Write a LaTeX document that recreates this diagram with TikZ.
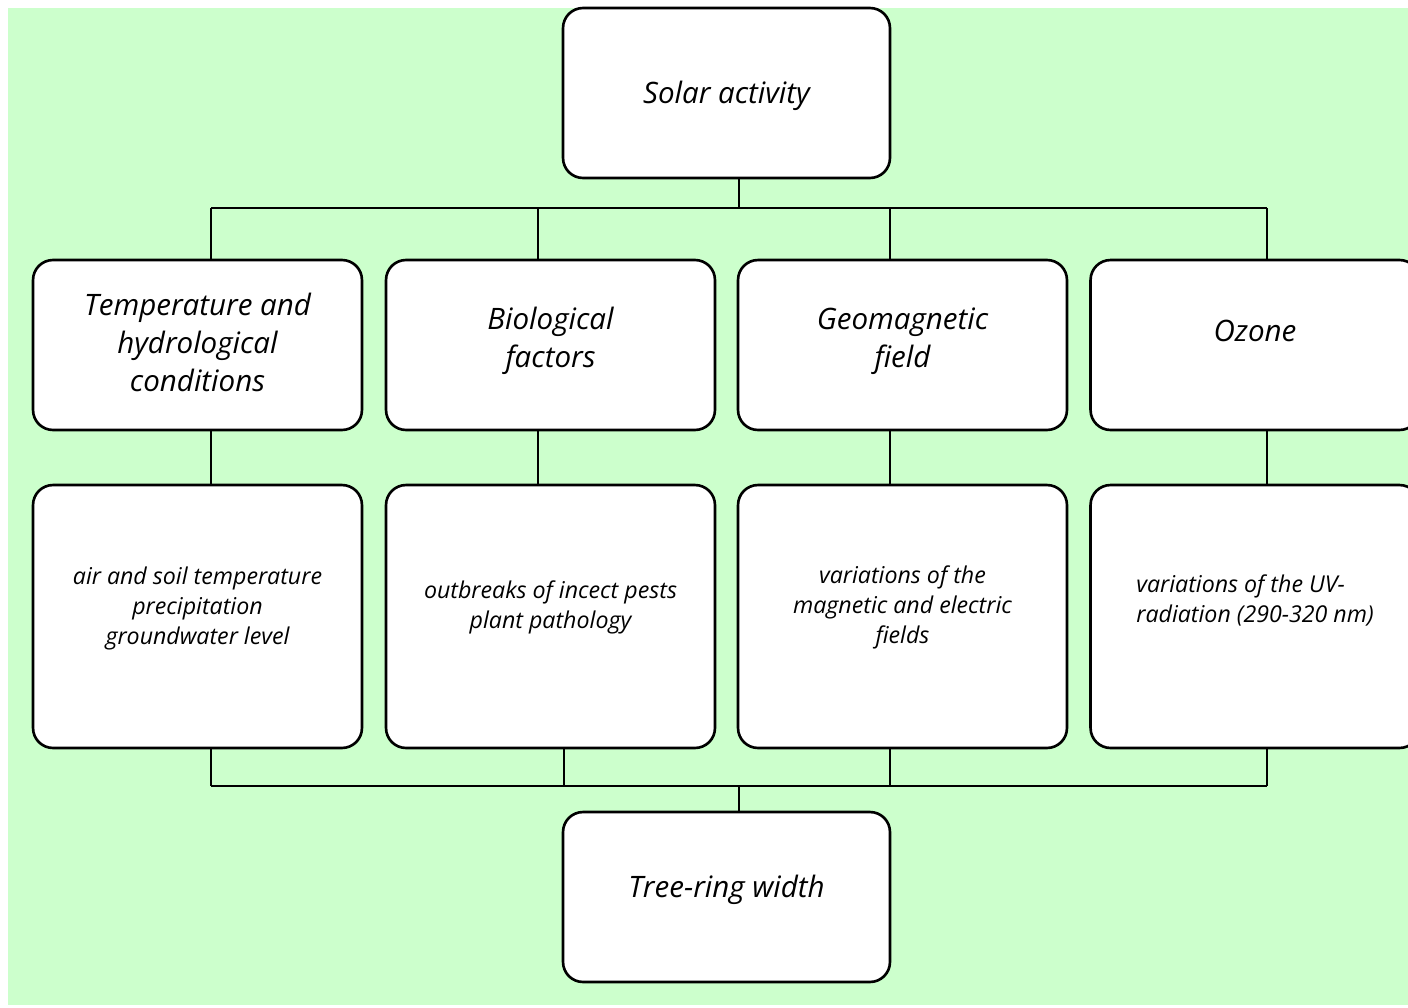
\documentclass[tikz,border=0pt]{standalone}
\usepackage{fontspec}
\setmainfont{Open Sans}
\definecolor{bggreen}{RGB}{204,255,204}
% raise the text inside a box without changing the box
\newcommand\lifttext[3][c]{\raisebox{#2}[\height][\depth]{\begin{tabular}{@{}#1@{}}#3\end{tabular}}}
\tikzset{
  box/.style={draw, fill=white, rounded corners=0.4cm, line width=1.5pt,
    inner sep=0pt, align=center, minimum width=6.58cm},
  headbox/.style={box, minimum height=3.4cm, font=\itshape\fontsize{16.8}{21.5}\selectfont},
  detailbox/.style={box, minimum height=5.26cm, font=\itshape\fontsize{13.2}{17}\selectfont},
  link/.style={line width=0.9pt}
}
\begin{document}
\begin{tikzpicture}[x=0.02cm, y=-0.02cm]
    \useasboundingbox (0,0) rectangle (1408,1007);
    \clip (0,0) rectangle (1408,1007);
    \fill[bggreen] (8,8) rectangle (1408,1005);

    % top and bottom boxes
    \node[headbox, minimum width=6.54cm] (solar) at (726.5,93) {\lifttext{-1.5pt}{Solar activity}};
    \node[headbox, minimum width=6.54cm] (ring) at (726.5,897) {\lifttext{4pt}{Tree-ring width}};

    % factors
    \node[headbox] (temp) at (197.5,345) {\lifttext{-0.5pt}{Temperature and\\hydrological\\conditions}};
    \node[headbox] (bio) at (550.5,345) {\lifttext{2.5pt}{Biological\\factors}};
    \node[headbox] (geo) at (902.5,345) {\lifttext{2.5pt}{Geomagnetic\\field}};
    \node[headbox] (ozone) at (1255,345) {\lifttext{6.5pt}{Ozone}};

    % details
    \node[detailbox] (tempd) at (197.5,616.5) {\lifttext{4.5pt}{air and soil temperature\\precipitation\\groundwater level}};
    \node[detailbox] (biod) at (550.5,616.5) {\lifttext{5pt}{outbreaks of incect pests\\plant pathology}};
    \node[detailbox] (geod) at (902.5,616.5) {\lifttext{5pt}{variations of the\\magnetic and electric\\fields}};
    \node[detailbox] (ozoned) at (1255,616.5) {\lifttext[l]{8.5pt}{variations of the UV-\\radiation (290-320 nm)}};

    % connectors
    \coordinate (bustop) at (739,208);
    \coordinate (busbot) at (739,786);
    \foreach \n/\xa/\xb in {temp/211/211, bio/538/564, geo/890/890, ozone/1267/1267}{
      \coordinate (\n-a) at (\xa,208);
      \coordinate (\n-b) at (\xb,786);
      \draw[link] (\n-a) -- (\n-a |- \n.north);
      \draw[link] (\n-a |- \n.south) -- (\n-a |- \n d.north);
      \draw[link] (\n-b |- \n d.south) -- (\n-b);
    }
    \draw[link] (temp-a) -- (ozone-a);
    \draw[link] (temp-b) -- (ozone-b);
    \draw[link] (bustop |- solar.south) -- (bustop);
    \draw[link] (busbot) -- (busbot |- ring.north);
\end{tikzpicture}
\end{document}
